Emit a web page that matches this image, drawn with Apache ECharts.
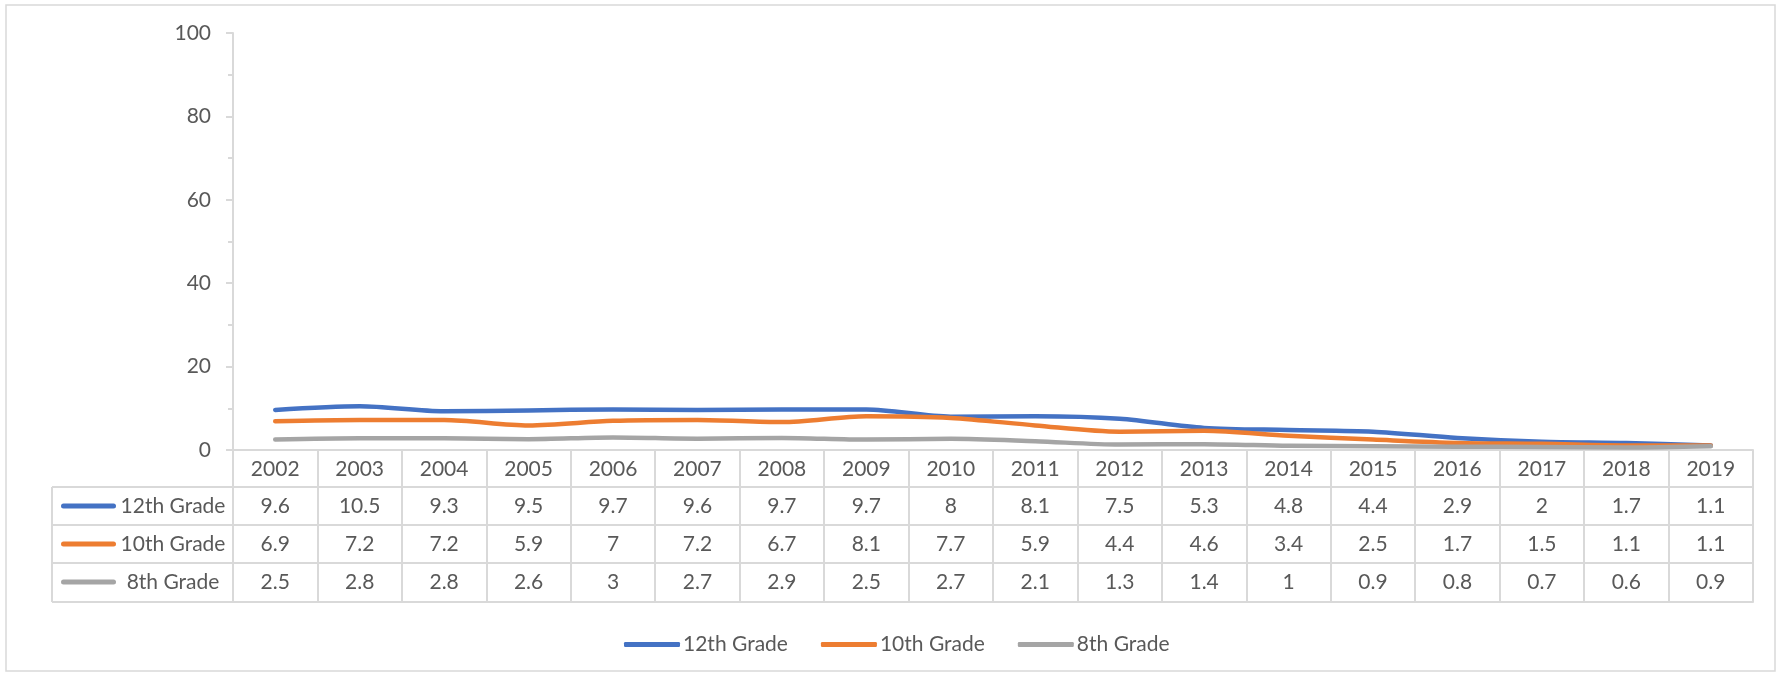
<!DOCTYPE html>
<html>
<head>
<meta charset="utf-8">
<script src="https://cdn.jsdelivr.net/npm/echarts@6/dist/echarts.min.js"></script>
<style>html,body{margin:0;padding:0;background:#fff;}#chart{width:1777px;height:674px;}</style>
</head>
<body>
<div id="chart"></div>
<script>
const years = ['2002','2003','2004','2005','2006','2007','2008','2009','2010','2011','2012','2013','2014','2015','2016','2017','2018','2019'];
const grade12 = [9.6,10.5,9.3,9.5,9.7,9.6,9.7,9.7,8,8.1,7.5,5.3,4.8,4.4,2.9,2,1.7,1.1];
const grade10 = [6.9,7.2,7.2,5.9,7,7.2,6.7,8.1,7.7,5.9,4.4,4.6,3.4,2.5,1.7,1.5,1.1,1.1];
const grade8 = [2.5,2.8,2.8,2.6,3,2.7,2.9,2.5,2.7,2.1,1.3,1.4,1,0.9,0.8,0.7,0.6,0.9];
const seriesNames = ['12th Grade','10th Grade','8th Grade'];
const colors = ['#4472C4','#ED7D31','#A5A5A5'];
const yMin = 0, yMax = 100, yStep = 20;

const FONT = 'Lato';
const FS = 21;
const TXT = '#595959';
const GRID = '#d9d9d9';

const chart = echarts.init(document.getElementById('chart'));

const rowOffsets = [37, 75, 113];
const rowHeights = [38, 38, 39];
const rowData = [grade12, grade10, grade8];

function rowAxis(i) {
  return {
    type: 'category',
    gridIndex: 0,
    position: 'bottom',
    offset: rowOffsets[i],
    data: rowData[i].map(String),
    boundaryGap: true,
    axisLine: { show: true, lineStyle: { color: GRID, width: 2 } },
    axisTick: { show: true, interval: 0, length: rowHeights[i], lineStyle: { color: GRID, width: 2 } },
    axisLabel: { show: true, interval: 0, margin: 8, color: TXT, fontSize: FS, fontFamily: FONT, lineHeight: 22 },
    name: '{k|}{t|' + seriesNames[i] + '}',
    nameLocation: 'start',
    nameGap: 7,
    nameTextStyle: {
      verticalAlign: 'top',
      padding: [8, 0, 0, 0],
      rich: {
        k: { width: 55, height: 5, backgroundColor: colors[i], borderRadius: 3 },
        t: { color: TXT, fontSize: FS, fontFamily: FONT, padding: [0, 0, 0, 4], lineHeight: 22, width: 106, align: 'left' }
      }
    },
    splitLine: { show: false }
  };
}

const option = {
  animation: false,
  backgroundColor: '#fff',
  textStyle: { fontFamily: FONT },
  grid: { left: 233, right: 24, top: 33, bottom: 224, containLabel: false },
  legend: {
    data: seriesNames,
    left: 619,
    top: 629,
    icon: 'roundRect',
    itemWidth: 56,
    itemHeight: 5,
    itemGap: 33,
    textStyle: { color: TXT, fontSize: FS, fontFamily: FONT, padding: [0, 0, 0, -2] }
  },
  xAxis: [
    {
      type: 'category',
      data: years,
      boundaryGap: true,
      axisLine: { show: true, lineStyle: { color: GRID, width: 2 } },
      axisTick: { show: true, interval: 0, length: 37, lineStyle: { color: GRID, width: 2 } },
      axisLabel: { interval: 0, margin: 8, color: TXT, fontSize: FS, fontFamily: FONT, lineHeight: 22 },
      splitLine: { show: false }
    },
    rowAxis(0),
    rowAxis(1),
    rowAxis(2),
    {
      type: 'category',
      data: years,
      position: 'bottom',
      offset: 152,
      boundaryGap: true,
      axisLine: { show: true, lineStyle: { color: GRID, width: 2 } },
      axisTick: { show: false },
      axisLabel: { show: false },
      splitLine: { show: false }
    }
  ],
  yAxis: {
    type: 'value',
    min: yMin,
    max: yMax,
    interval: yStep,
    axisLine: { show: true, lineStyle: { color: GRID, width: 2 } },
    axisTick: { show: true, length: 7, lineStyle: { color: GRID, width: 2 } },
    minorTick: { show: true, splitNumber: 2, length: 5, lineStyle: { color: GRID, width: 2 } },
    axisLabel: { margin: 22, color: TXT, fontSize: FS, fontFamily: FONT },
    splitLine: { show: false }
  },
  series: seriesNames.map((n, i) => ({
    name: n,
    type: 'line',
    xAxisIndex: 0,
    data: rowData[i],
    smooth: 0.3,
    showSymbol: false,
    symbol: 'none',
    color: colors[i],
    lineStyle: { color: colors[i], width: 4.5, cap: 'round', join: 'round' }
  })),
  graphic: [
    { type: 'rect', silent: true, shape: { x: 6, y: 5, width: 1769, height: 666 }, style: { fill: 'none', stroke: GRID, lineWidth: 1.5 } },
    { type: 'line', silent: true, shape: { x1: 52, y1: 487, x2: 233, y2: 487 }, style: { stroke: GRID, lineWidth: 2 } },
    { type: 'line', silent: true, shape: { x1: 52, y1: 525, x2: 233, y2: 525 }, style: { stroke: GRID, lineWidth: 2 } },
    { type: 'line', silent: true, shape: { x1: 52, y1: 563, x2: 233, y2: 563 }, style: { stroke: GRID, lineWidth: 2 } },
    { type: 'line', silent: true, shape: { x1: 52, y1: 602, x2: 233, y2: 602 }, style: { stroke: GRID, lineWidth: 2 } },
    { type: 'line', silent: true, shape: { x1: 52, y1: 487, x2: 52, y2: 602 }, style: { stroke: GRID, lineWidth: 2 } }
  ]
};
chart.setOption(option);
</script>
</body>
</html>
